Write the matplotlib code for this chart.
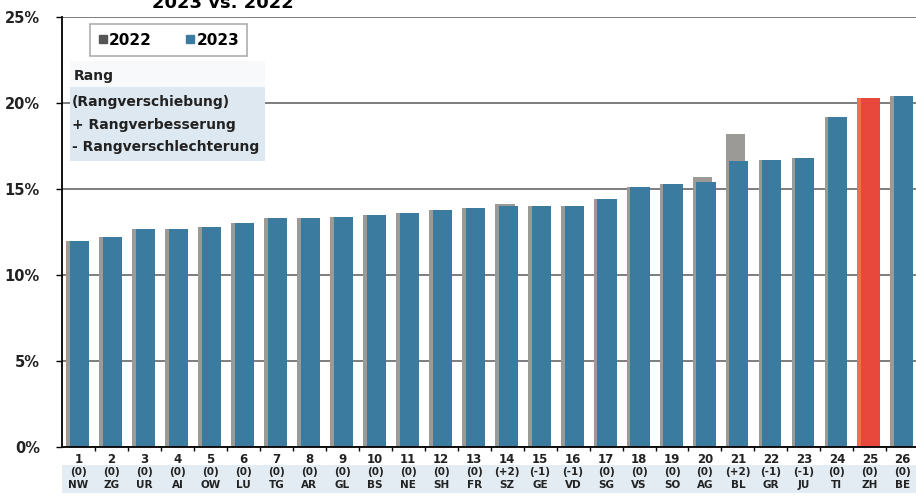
import numpy as np
import matplotlib.pyplot as plt
from matplotlib.patches import Rectangle
from matplotlib.lines import Line2D

# Kantone, Rang 2023 und Rangverschiebung gegenueber 2022
kantone = ["NW", "ZG", "UR", "AI", "OW", "LU", "TG", "AR", "GL", "BS", "NE", "SH", "FR",
           "SZ", "GE", "VD", "SG", "VS", "SO", "AG", "BL", "GR", "JU", "TI", "ZH", "BE"]
verschiebung = ["(0)"] * 13 + ["(+2)", "(-1)", "(-1)"] + ["(0)"] * 4 + ["(+2)", "(-1)", "(-1)"] + ["(0)"] * 3

werte_2023 = [12.0, 12.2, 12.7, 12.7, 12.8, 13.0, 13.3, 13.3, 13.4, 13.5, 13.6, 13.8, 13.9,
              14.0, 14.0, 14.0, 14.4, 15.1, 15.3, 15.4, 16.6, 16.7, 16.8, 19.2, 20.3, 20.4]
werte_2022 = [12.0, 12.2, 12.7, 12.7, 12.8, 13.0, 13.3, 13.3, 13.4, 13.5, 13.6, 13.8, 13.9,
              14.1, 14.0, 14.0, 14.4, 15.1, 15.3, 15.7, 18.2, 16.7, 16.8, 19.2, 20.3, 20.4]

blau = "#3c7ba0"
grau = "#9b9a96"
rot = "#e8473b"
orange = "#f0704c"

fig = plt.figure(figsize=(9.16, 4.99), dpi=100)

# hellblaues Band hinter der Beschriftung
fig.patches.append(Rectangle((62 / 916, 1 - 493 / 499), 1, 28 / 499, transform=fig.transFigure,
                             facecolor="#e3ecf3", edgecolor="none", zorder=-1))

ax = fig.add_axes([62 / 916, 1 - 447 / 499, 1 - 62 / 916, 430 / 499])

x = np.arange(1, len(kantone) + 1)
farben_23 = [rot if k == "ZH" else blau for k in kantone]
farben_22 = [orange if k == "ZH" else grau for k in kantone]

ax.bar(x - 0.075, werte_2022, width=0.6, color=farben_22, zorder=2)
ax.bar(x + 0.03, werte_2023, width=0.58, color=farben_23, zorder=2)

ax.set_xlim(0.5, 26.4)
ax.set_ylim(0, 25)
ax.set_yticks(np.arange(0, 26, 5))
ax.set_yticklabels([f"{v}%" for v in range(0, 26, 5)], fontsize=10.5, fontweight="bold", color="#222222")
ax.yaxis.grid(True, color="#5a5a5a", linewidth=1.1, zorder=1)
ax.set_axisbelow(True)
ax.tick_params(axis="y", length=4, width=1, pad=12)

ax.set_xticks([])
ax.set_xticks(np.arange(1.5, 26.5, 1), minor=True)
ax.tick_params(axis="x", which="minor", length=3, width=1, direction="out")

for s in ["top", "right"]:
    ax.spines[s].set_visible(False)
ax.spines["left"].set_linewidth(1.3)
ax.spines["bottom"].set_linewidth(1.3)

# Beschriftung unter den Balken
tr = ax.get_xaxis_transform()
for i, k in enumerate(kantone):
    ax.text(x[i], -0.028, str(i + 1), transform=tr, ha="center", va="center",
            fontsize=8.5, fontweight="bold", color="#222222")
    ax.text(x[i], -0.058, verschiebung[i], transform=tr, ha="center", va="center",
            fontsize=7.5, fontweight="bold", color="#222222")
    ax.text(x[i], -0.088, k, transform=tr, ha="center", va="center",
            fontsize=7.5, fontweight="bold", color="#222222")

# Legende
handles = [Line2D([], [], marker="s", linestyle="none", color="#555555", markersize=6),
           Line2D([], [], marker="s", linestyle="none", color=blau, markersize=6)]
leg = ax.legend(handles, ["2022", "2023"], ncol=2, loc="center",
                bbox_to_anchor=(0.125, 0.946), frameon=True, fancybox=False,
                edgecolor="#999999", handlelength=0.6, handletextpad=0.1,
                columnspacing=2.2, borderpad=0.55, prop={"size": 11, "weight": "bold"})
leg.get_frame().set_linewidth(1.2)
leg.set_zorder(5)

# Erklaerungsbox Rang
ax.add_patch(Rectangle((0.009, 0.665), 0.229, 0.172, transform=ax.transAxes,
                       facecolor="#dde8f1", edgecolor="none", zorder=3))
ax.add_patch(Rectangle((0.009, 0.837), 0.229, 0.06, transform=ax.transAxes,
                       facecolor="#f7f9fb", edgecolor="none", zorder=3))
ax.text(0.014, 0.862, "Rang", transform=ax.transAxes, fontsize=10, fontweight="bold",
        va="center", ha="left", zorder=4, color="#222222")
for j, zeile in enumerate(["(Rangverschiebung)", "+ Rangverbesserung", "- Rangverschlechterung"]):
    ax.text(0.012, 0.802 - j * 0.052, zeile, transform=ax.transAxes, fontsize=10,
            fontweight="bold", va="center", ha="left", zorder=4, color="#222222")

# abgeschnittener Titel (oben im Original abgeschnitten)
fig.text(0.243, 0.993, "2023 vs. 2022", fontsize=13, fontweight="bold", ha="center", va="center")

fig.savefig("out.png", dpi=100)
